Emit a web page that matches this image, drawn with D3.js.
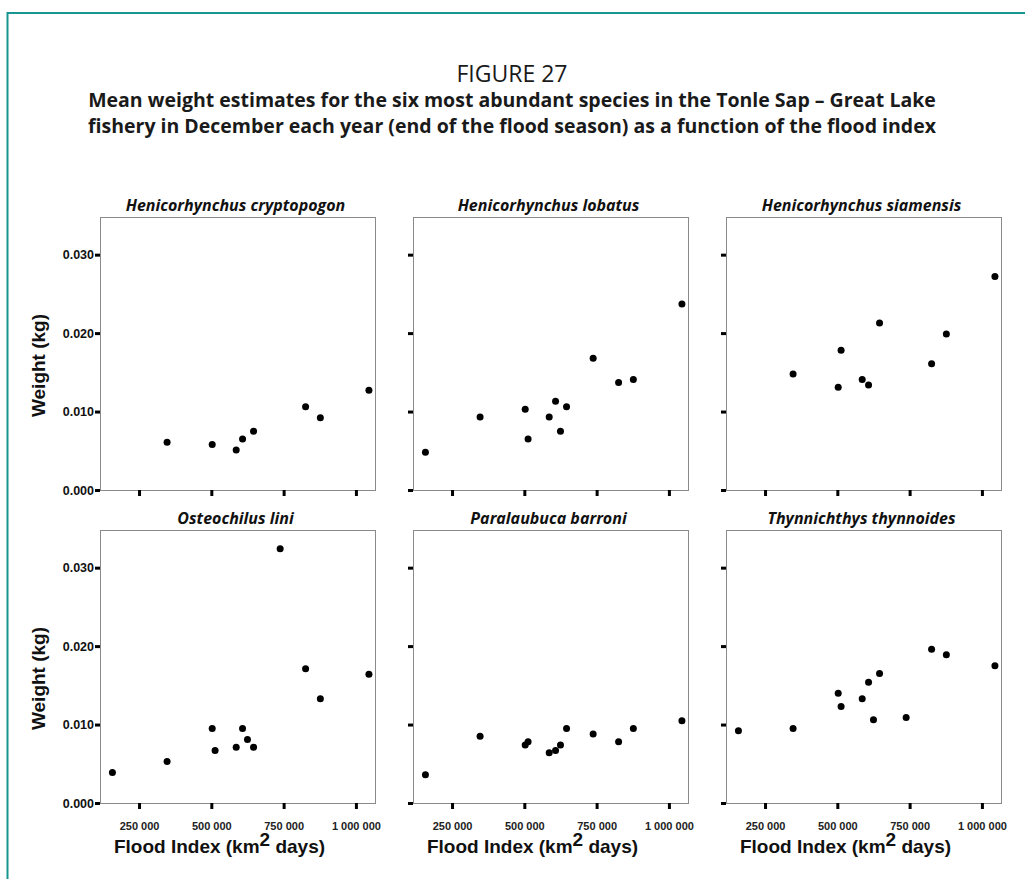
<!DOCTYPE html>
<html>
<head>
<meta charset="utf-8">
<script src="https://cdn.jsdelivr.net/npm/d3@7"></script>
<style>
  body { margin: 0; background: #fff; }
  svg { display: block; }
</style>
</head>
<body>
<div id="chart"></div>
<script>
// flood index for each year (km2 days), shared by all panels
const floodIndex = [158000, 347000, 503000, 513000, 586000, 608000, 625000, 646000, 738000, 826000, 877000, 1045000]

const species = [
  'Henicorhynchus cryptopogon', 'Henicorhynchus lobatus', 'Henicorhynchus siamensis',
  'Osteochilus lini', 'Paralaubuca barroni', 'Thynnichthys thynnoides'
]

// mean weight (kg), null = no estimate that year
const cryptopogon = [null, 0.0061, 0.0058, null, 0.0051, 0.0065, null, 0.0075, null, 0.0106, 0.0092, 0.0127]
const lobatus = [0.0048, 0.0093, 0.0103, 0.0065, 0.0093, 0.0113, 0.0075, 0.0106, 0.0168, 0.0137, 0.0141, 0.0237]
const siamensis = [null, 0.0148, 0.0131, 0.0178, 0.0141, 0.0134, null, 0.0213, null, 0.0161, 0.0199, 0.0272]
const lini = [0.0039, 0.0053, 0.0095, 0.0067, 0.0071, 0.0095, 0.0081, 0.0071, 0.0324, 0.0171, 0.0133, 0.0164]
const barroni = [0.0036, 0.0085, 0.0074, 0.0078, 0.0064, 0.0067, 0.0074, 0.0095, 0.0088, 0.0078, 0.0095, 0.0105]
const thynnoides = [0.0092, 0.0095, 0.0140, 0.0123, 0.0133, 0.0154, 0.0106, 0.0165, 0.0109, 0.0196, 0.0189, 0.0175]

const weights = [cryptopogon, lobatus, siamensis, lini, barroni, thynnoides]

const xTicks = [250000, 500000, 750000, 1000000]
const yTicks = [0, 0.01, 0.02, 0.03]

const width = 1025
const height = 879
const panelW = 275
const panelH = 273
const colLeft = [100, 413, 726]
const rowTop = [217, 530]

const svg = d3.select('#chart')
  .append('svg')
  .attr('width', width)
  .attr('height', height)

// teal frame: top and left edges
svg.append('path')
  .attr('d', `M${width},13H7.5V${height}`)
  .attr('fill', 'none')
  .attr('stroke', '#17958f')
  .attr('stroke-width', 2)

const titleFont = '"Open Sans", "Noto Sans", sans-serif'
svg.append('text')
  .attr('x', 512).attr('y', 82)
  .attr('text-anchor', 'middle')
  .attr('font-family', titleFont)
  .attr('font-size', '23px')
  .attr('fill', '#1a1a1a')
  .text('FIGURE 27')

const subLines = [
  'Mean weight estimates for the six most abundant species in the Tonle Sap \u2013 Great Lake',
  'fishery in December each year (end of the flood season) as a function of the flood index'
]
svg.selectAll('text.sub')
  .data(subLines)
  .join('text')
  .attr('class', 'sub')
  .attr('x', 512)
  .attr('y', (d, i) => 107 + i * 26)
  .attr('text-anchor', 'middle')
  .attr('font-family', titleFont)
  .attr('font-weight', 700)
  .attr('font-size', '19.5px')
  .attr('fill', '#1a1a1a')
  .text(d => d)

const x = d3.scaleLinear().domain([115000, 1066000]).range([0, panelW])
const y = d3.scaleLinear().domain([0, 0.0348]).range([panelH, 0])

const fmtX = d => d3.format(',')(d).replace(/,/g, ' ')
const axisFont = '"Liberation Sans", Arial, sans-serif'

species.forEach((name, i) => {
  const row = Math.floor(i / 3)
  const col = i % 3
  const g = svg.append('g')
    .attr('transform', `translate(${colLeft[col]},${rowTop[row]})`)

  g.append('rect')
    .attr('x', 0.5).attr('y', 0.5)
    .attr('width', panelW).attr('height', panelH)
    .attr('fill', 'none')
    .attr('stroke', '#8a8a8a')
    .attr('stroke-width', 1)

  g.append('text')
    .attr('x', panelW / 2 - 2)
    .attr('y', -6)
    .attr('text-anchor', 'middle')
    .attr('font-family', titleFont)
    .attr('font-weight', 700)
    .attr('font-style', 'italic')
    .attr('font-size', '16px')
    .attr('fill', '#111')
    .text(name)

  const yAxis = g.append('g')
    .call(d3.axisLeft(y).tickValues(yTicks).tickSize(5).tickFormat(col === 0 ? d3.format('.3f') : ''))
  yAxis.select('.domain').remove()
  yAxis.selectAll('line').attr('stroke', '#000').attr('stroke-width', 3)
  yAxis.selectAll('text')
    .attr('font-family', axisFont)
    .attr('font-weight', 700)
    .attr('font-size', '12.5px')
    .attr('fill', '#111')
    .attr('dx', '2px')

  const xAxis = g.append('g')
    .attr('transform', `translate(0,${panelH})`)
    .call(d3.axisBottom(x).tickValues(xTicks).tickSize(6).tickFormat(row === 1 ? fmtX : ''))
  xAxis.select('.domain').remove()
  xAxis.selectAll('line').attr('stroke', '#000').attr('stroke-width', 3)
  xAxis.selectAll('text')
    .attr('font-family', axisFont)
    .attr('font-weight', 700)
    .attr('font-size', '11px')
    .attr('fill', '#222')
    .attr('dy', '1.6em')

  const pts = floodIndex
    .map((f, j) => ({ f, w: weights[i][j] }))
    .filter(d => d.w != null)

  g.append('g')
    .selectAll('circle')
    .data(pts)
    .join('circle')
    .attr('cx', d => x(d.f))
    .attr('cy', d => y(d.w))
    .attr('r', 3.5)
    .attr('fill', '#000')

  if (col === 0) {
    g.append('text')
      .attr('transform', `translate(-55,${panelH / 2 + 12}) rotate(-90)`)
      .attr('text-anchor', 'middle')
      .attr('font-family', axisFont)
      .attr('font-weight', 700)
      .attr('font-size', '19px')
      .attr('fill', '#111')
      .text('Weight (kg)')
  }

  if (row === 1) {
    const t = g.append('text')
      .attr('x', panelW / 2 - 18)
      .attr('y', panelH + 50)
      .attr('text-anchor', 'middle')
      .attr('font-family', axisFont)
      .attr('font-weight', 700)
      .attr('font-size', '19px')
      .attr('fill', '#111')
    t.append('tspan').text('Flood Index (km')
    t.append('tspan').attr('dy', -7).text('2')
    t.append('tspan').attr('dy', 7).text(' days)')
  }
})
</script>
</body>
</html>
